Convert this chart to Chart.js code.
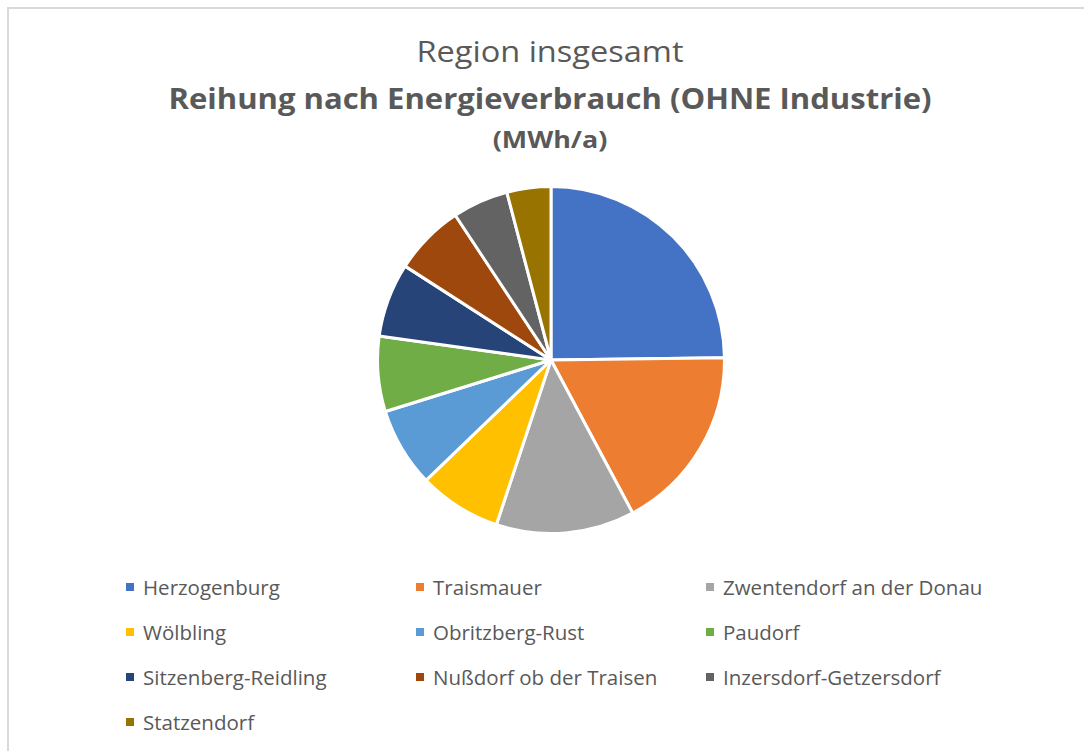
<!DOCTYPE html>
<html>
<head>
<meta charset="utf-8">
<script src="https://cdn.jsdelivr.net/npm/chart.js@4.4.0/dist/chart.umd.min.js"></script>
<style>
  body { margin: 0; background: #fff; font-family: "Open Sans", sans-serif; color: #595959; }
  #frame { position: absolute; left: 7px; top: 7px; width: 1100px; height: 800px;
           border-left: 2px solid #d9d9d9; border-top: 2px solid #d9d9d9; }
  .title { position: absolute; left: 0; width: 1100px; text-align: center; line-height: 40px;
           transform-origin: 550px 50%; }
  #t1 { top: 31px; font-size: 30px; transform: scaleX(1.085); }
  #t2 { top: 77.5px; font-size: 29px; font-weight: bold; transform: scaleX(1.07); }
  #t3 { top: 119px; font-size: 24px; font-weight: bold; transform: scaleX(1.12); }
  #pieBox { position: absolute; left: 376px; top: 185px; width: 350px; height: 350px; }
  #legend { position: absolute; left: 126px; top: 564px; display: grid;
            grid-template-columns: 290px 290px 290px; grid-auto-rows: 45px; }
  .item { display: flex; align-items: center; font-size: 20.5px; white-space: nowrap; }
  .box { width: 8px; height: 8px; margin-right: 9px; }
</style>
</head>
<body>
<div id="frame"></div>
<div class="title" id="t1">Region insgesamt</div>
<div class="title" id="t2">Reihung nach Energieverbrauch (OHNE Industrie)</div>
<div class="title" id="t3">(MWh/a)</div>
<div id="pieBox"><canvas id="pieChart"></canvas></div>
<div id="legend"></div>

<script>
const gemeinden = ['Herzogenburg', 'Traismauer', 'Zwentendorf an der Donau', 'Wölbling',
  'Obritzberg-Rust', 'Paudorf', 'Sitzenberg-Reidling', 'Nußdorf ob der Traisen',
  'Inzersdorf-Getzersdorf', 'Statzendorf'];
// Energieverbrauch ohne Industrie, MWh/a (aus dem Bild geschaetzt)
const verbrauch = [124000, 87000, 64500, 38500, 37000, 35000, 34500, 33000, 26000, 20500];
const farben = ['#4472C4', '#ED7D31', '#A5A5A5', '#FFC000', '#5B9BD5',
  '#70AD47', '#264478', '#9E480E', '#636363', '#997300'];

const ctx = document.getElementById('pieChart');
const chart = new Chart(ctx, {
  type: 'pie',
  data: {
    labels: gemeinden,
    datasets: [{
      data: verbrauch,
      backgroundColor: farben,
      borderColor: '#ffffff',
      borderWidth: 3
    }]
  },
  options: {
    responsive: true,
    maintainAspectRatio: false,
    animation: false,
    plugins: {
      legend: { display: false },
      tooltip: { enabled: false }
    }
  }
});

// eigene Legende als Raster, 3 Spalten
const legend = document.getElementById('legend');
chart.options.plugins.legend.labels.generateLabels(chart).forEach(item => {
  const div = document.createElement('div');
  div.className = 'item';
  const box = document.createElement('span');
  box.className = 'box';
  box.style.background = item.fillStyle;
  div.appendChild(box);
  div.appendChild(document.createTextNode(item.text));
  legend.appendChild(div);
});
</script>
</body>
</html>
